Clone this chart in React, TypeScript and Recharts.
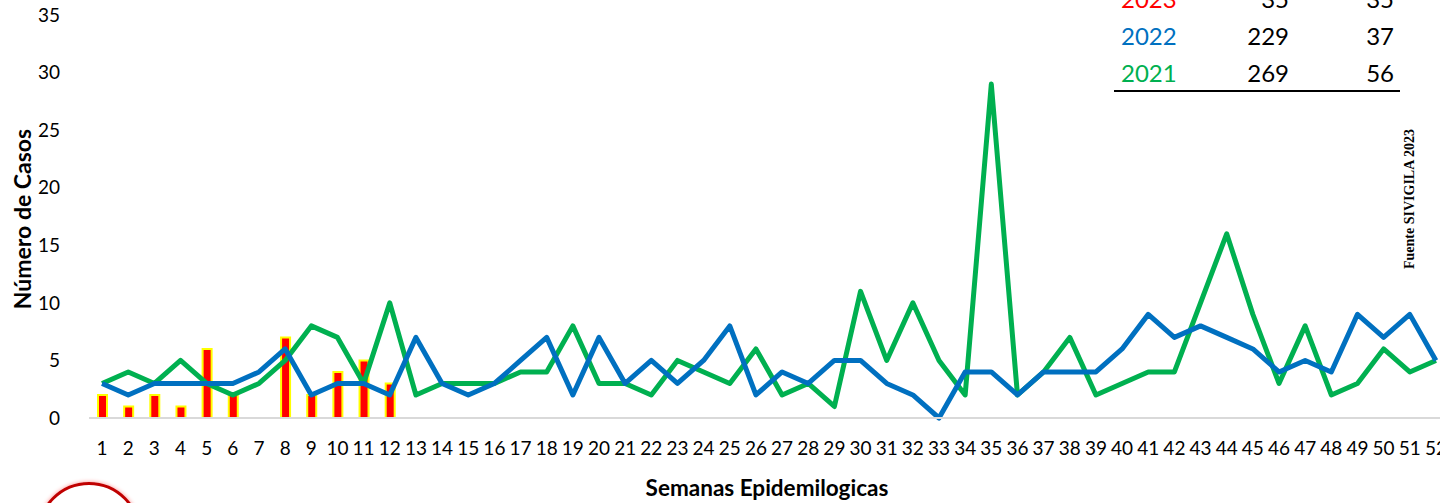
import React from "react";
import { ComposedChart, Bar, Line, XAxis, YAxis } from "recharts";

const weeks: number[] = Array.from({ length: 52 }, (_, i) => i + 1);

const cases2023: (number | null)[] = [2, 1, 2, 1, 6, 2, 0, 7, 2, 4, 5, 3];

const cases2022: number[] = [
  3, 2, 3, 3, 3, 3, 4, 6, 2, 3, 3, 2, 7, 3, 2, 3, 5, 7, 2, 7, 3, 5, 3, 5, 8, 2,
  4, 3, 5, 5, 3, 2, 0, 4, 4, 2, 4, 4, 4, 6, 9, 7, 8, 7, 6, 4, 5, 4, 9, 7, 9, 5,
];

const cases2021: number[] = [
  3, 4, 3, 5, 3, 2, 3, 5, 8, 7, 3, 10, 2, 3, 3, 3, 4, 4, 8, 3, 3, 2, 5, 4, 3, 6,
  2, 3, 1, 11, 5, 10, 5, 2, 29, 2, 4, 7, 2, 3, 4, 4, 10, 16, 9, 3, 8, 2, 3, 6, 4, 5,
];

const yTicks: number[] = [0, 5, 10, 15, 20, 25, 30, 35];

const tableYears: string[] = ["2023", "2022", "2021"];
const tableTotals: number[] = [35, 229, 269];
const tableCumulative: number[] = [35, 37, 56];
const tableColors: string[] = ["#FF0000", "#0070C0", "#00B050"];

const data = weeks.map((w, i) => ({
  week: w,
  y2023: i < cases2023.length ? cases2023[i] : null,
  y2022: cases2022[i],
  y2021: cases2021[i],
}));

const FONT = "Lato, 'Open Sans', sans-serif";

export default function App() {
  return (
    <div
      style={{
        position: "relative",
        width: 1440,
        height: 503,
        overflow: "hidden",
        background: "#fff",
        fontFamily: FONT,
      }}
    >
      <style>{`html,body{margin:0;padding:0;overflow:hidden;background:#fff}`}</style>
      <div style={{ position: "absolute", left: 0, top: 0 }}>
        <ComposedChart
          width={1449}
          height={503}
          data={data}
          margin={{ top: 15, right: 0, bottom: 0, left: 0 }}
          barGap={0}
        >
          <XAxis
            dataKey="week"
            type="category"
            interval={0}
            tickLine={false}
            tickSize={0}
            tickMargin={24}
            axisLine={{ stroke: "#D9D9D9", strokeWidth: 2 }}
            height={85}
            tick={{ fill: "#000", fontSize: 19, fontFamily: FONT }}
          />
          <YAxis
            domain={[0, 35]}
            ticks={yTicks}
            interval={0}
            axisLine={false}
            tickLine={false}
            tickSize={0}
            tickMargin={29}
            width={89}
            tick={{ fill: "#000", fontSize: 19, fontFamily: FONT }}
          />
          <Bar
            dataKey="y2023"
            fill="#FF0000"
            stroke="#FFFF00"
            strokeWidth={2}
            barSize={9}
            isAnimationActive={false}
          />
          <Line
            type="linear"
            dataKey="y2021"
            stroke="#00B050"
            strokeWidth={5}
            dot={false}
            activeDot={false}
            strokeLinejoin="round"
            isAnimationActive={false}
          />
          <Line
            type="linear"
            dataKey="y2022"
            stroke="#0070C0"
            strokeWidth={5}
            dot={false}
            activeDot={false}
            strokeLinejoin="round"
            isAnimationActive={false}
          />
        </ComposedChart>
      </div>

      {/* Y axis title */}
      <div
        style={{
          position: "absolute",
          left: 22,
          top: 219,
          transform: "translate(-50%, -50%) rotate(-90deg)",
          whiteSpace: "nowrap",
          fontWeight: 700,
          fontSize: 23,
          color: "#000",
        }}
      >
        Número de Casos
      </div>

      {/* X axis title */}
      <div
        style={{
          position: "absolute",
          left: 767,
          top: 487,
          transform: "translate(-50%, -50%)",
          whiteSpace: "nowrap",
          fontWeight: 700,
          fontSize: 22.5,
          color: "#000",
        }}
      >
        Semanas Epidemilogicas
      </div>

      {/* Source note */}
      <div
        style={{
          position: "absolute",
          left: 1410,
          top: 199,
          transform: "translate(-50%, -50%) rotate(-90deg)",
          whiteSpace: "nowrap",
          fontWeight: 700,
          fontSize: 14,
          fontFamily: "'Liberation Serif', 'DejaVu Serif', serif",
          color: "#000",
        }}
      >
        Fuente SIVIGILA 2023
      </div>

      {/* Summary table */}
      {tableYears.map((yr, i) => {
        const cy = -1 + i * 37;
        return (
          <React.Fragment key={yr}>
            <div
              style={{
                position: "absolute",
                left: 1121,
                top: cy,
                transform: "translateY(-50%)",
                fontSize: 24,
                color: tableColors[i],
                lineHeight: 1,
              }}
            >
              {yr}
            </div>
            <div
              style={{
                position: "absolute",
                right: 1440 - 1289,
                top: cy,
                transform: "translateY(-50%)",
                fontSize: 24,
                color: "#000",
                lineHeight: 1,
              }}
            >
              {tableTotals[i]}
            </div>
            <div
              style={{
                position: "absolute",
                right: 1440 - 1394,
                top: cy,
                transform: "translateY(-50%)",
                fontSize: 24,
                color: "#000",
                lineHeight: 1,
              }}
            >
              {tableCumulative[i]}
            </div>
          </React.Fragment>
        );
      })}
      <div
        style={{
          position: "absolute",
          left: 1114,
          top: 90,
          width: 286,
          height: 2,
          background: "#000",
        }}
      />

      {/* Logo circle (partially visible) */}
      <div
        style={{
          position: "absolute",
          left: 37,
          top: 482,
          width: 104,
          height: 104,
          borderRadius: "50%",
          border: "3px solid #C00000",
          boxSizing: "border-box",
          boxShadow: "0 0 4px rgba(255,0,0,0.45)",
        }}
      />
    </div>
  );
}
